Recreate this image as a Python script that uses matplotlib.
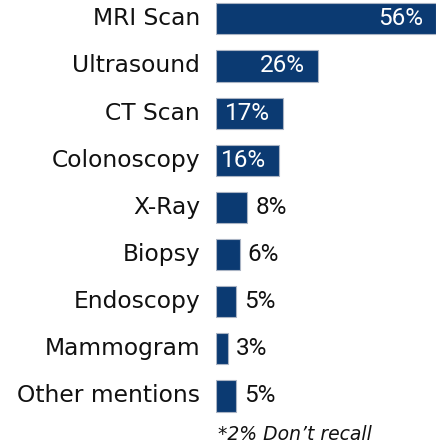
import matplotlib
matplotlib.use("Agg")
import matplotlib.pyplot as plt

categories = ["MRI Scan", "Ultrasound", "CT Scan", "Colonoscopy", "X-Ray",
              "Biopsy", "Endoscopy", "Mammogram", "Other mentions"]
values = [56, 26, 17, 16, 8, 6, 5, 3, 5]
value_labels = ["56%", "26%", "17%", "16%", "8%", "6%", "5%", "3%", "5%"]
footnote = "*2% Don\u2019t recall"

W, H = 436, 444
fig = plt.figure(figsize=(W / 100, H / 100), dpi=100)
ax = fig.add_axes([216 / W, (H - 420) / H, 220 / W, 420 / H])

bar_color = "#0b3a72"
ypos = list(range(len(categories)))
ax.barh(ypos, values, height=0.66, color=bar_color, edgecolor="#aab4c4", linewidth=0.8)
ax.set_xlim(0, 56)
ax.set_ylim(8.51, -0.40)
ax.axis("off")

fs = 16.8
for y, cat in zip(ypos, categories):
    ax.annotate(cat, xy=(0, y), xytext=(-16, 0), textcoords="offset pixels",
                ha="right", va="center", fontsize=fs, color="#111111", family="DejaVu Sans")

vfs = 17.5
for y, v, lab in zip(ypos, values, value_labels):
    if v >= 15:
        ax.annotate(lab, xy=(v, y), xytext=(-13, 0), textcoords="offset pixels",
                    ha="right", va="center", fontsize=vfs, color="white", family="Roboto")
    else:
        ax.annotate(lab, xy=(v, y), xytext=(8, 0), textcoords="offset pixels",
                    ha="left", va="center", fontsize=vfs, color="#111111", family="Roboto")

fig.text(218 / W, 1 - 434 / H, footnote, ha="left", va="center", fontsize=13.5,
         style="italic", color="#111111", family="DejaVu Sans")

fig.savefig("out.png", dpi=100)
